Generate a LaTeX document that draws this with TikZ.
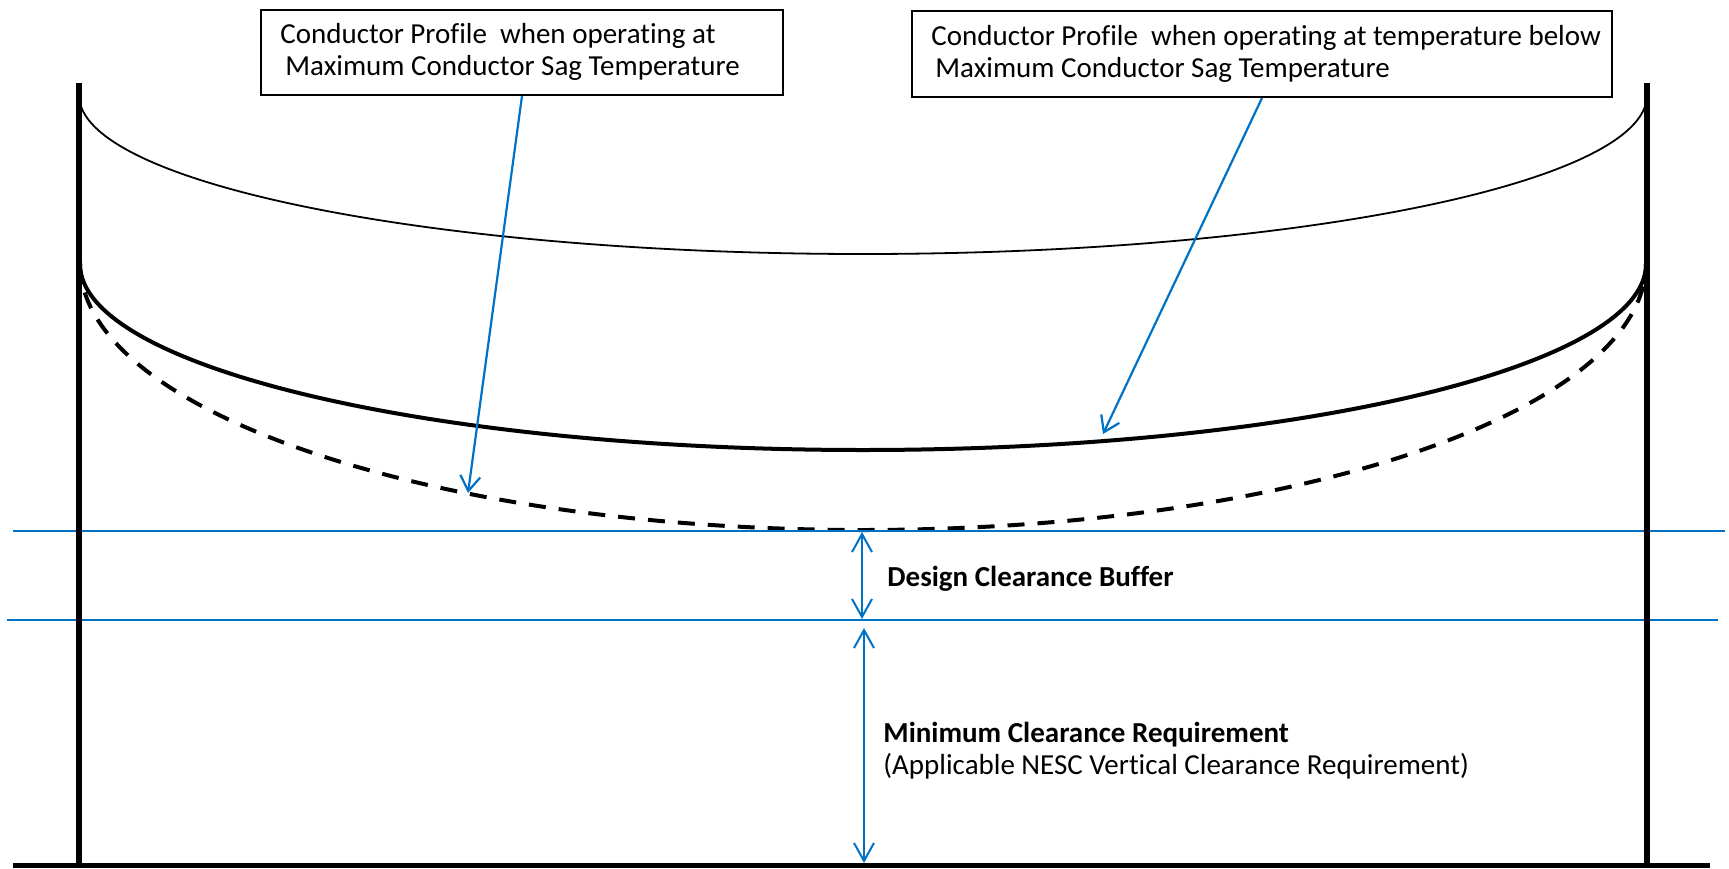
\documentclass[tikz,border=0pt]{standalone}
\usepackage{fontspec}
\setmainfont[RawFeature={-liga;-dlig}]{Carlito}
\usetikzlibrary{arrows.meta}
\definecolor{cblue}{RGB}{0,114,198}
\begin{document}
\begin{tikzpicture}[x=0.5pt,y=-0.5pt,
  every node/.style={font=\fontsize{14.5pt}{16pt}\selectfont, inner sep=0pt},
  pole/.style={line width=3pt},
  groundline/.style={line width=2.5pt},
  thincurve/.style={line width=0.9pt},
  thickcurve/.style={line width=2pt},
  dashcurve/.style={line width=2pt, dash pattern=on 8.5pt off 6.5pt},
  bluehline/.style={cblue, line width=1pt},
  leader/.style={cblue, line width=1.1pt, -{Straight Barb[length=7.5pt,width=10pt]}},
  dim/.style={cblue, line width=1pt, {Straight Barb[length=9pt,width=10pt]}-{Straight Barb[length=9pt,width=10pt]}},
  box/.style={draw, line width=1pt, anchor=north west, fill=white}
]
\useasboundingbox (0,0) rectangle (1729,868);

% conductor profiles
\draw[thincurve] (79,95) arc[start angle=180, end angle=0, x radius=784, y radius=159];
\draw[thickcurve] (80,264) arc[start angle=180, end angle=0, x radius=783, y radius=186];
\draw[dashcurve] (80,263) arc[start angle=180, end angle=0, x radius=783, y radius=267];

% clearance lines
\draw[bluehline] (13,531) -- (1725,531);
\draw[bluehline] (7,620) -- (1718,620);

% poles and ground
\draw[pole] (79,83) -- (79,865);
\draw[pole] (1647,83) -- (1647,865);
\draw[groundline] (13,865) -- (1710,865);

% boxes
\node[box, minimum width=261pt, minimum height=42.5pt] (box1) at (260,9) {};
\node[anchor=base west] (t1a) at (280,43) {Conductor Profile\ \ when operating at};
\node[anchor=base west] (t1b) at (285,75) {Maximum Conductor Sag Temperature};

\node[box, minimum width=350pt, minimum height=43pt] (box2) at (911,10) {};
\node[anchor=base west] (t2a) at (931,45) {Conductor Profile\ \ when operating at temperature below};
\node[anchor=base west] (t2b) at (935,77) {Maximum Conductor Sag Temperature};

% leaders
\coordinate (tip1) at (468,493);
\coordinate (tip2) at (1103,434);
\draw[leader] (box1.south) -- (tip1);
\draw[leader] (box2.south) -- (tip2);

% dimension arrows
\coordinate (d1t) at (862,532);
\coordinate (d1b) at (862,619);
\coordinate (d2t) at (864,628);
\coordinate (d2b) at (864,863);
\draw[dim] (d1t) -- (d1b);
\draw[dim] (d2t) -- (d2b);

% labels
\node[anchor=base west, font=\fontsize{14.5pt}{16pt}\selectfont\bfseries] (lbl1) at (887,586) {Design Clearance Buffer};
\node[anchor=base west, font=\fontsize{14.5pt}{16pt}\selectfont\bfseries] (lbl2) at (883,742) {Minimum Clearance Requirement};
\node[anchor=base west] (lbl3) at (883,774) {(Applicable NESC Vertical Clearance Requirement)};
\end{tikzpicture}
\end{document}
